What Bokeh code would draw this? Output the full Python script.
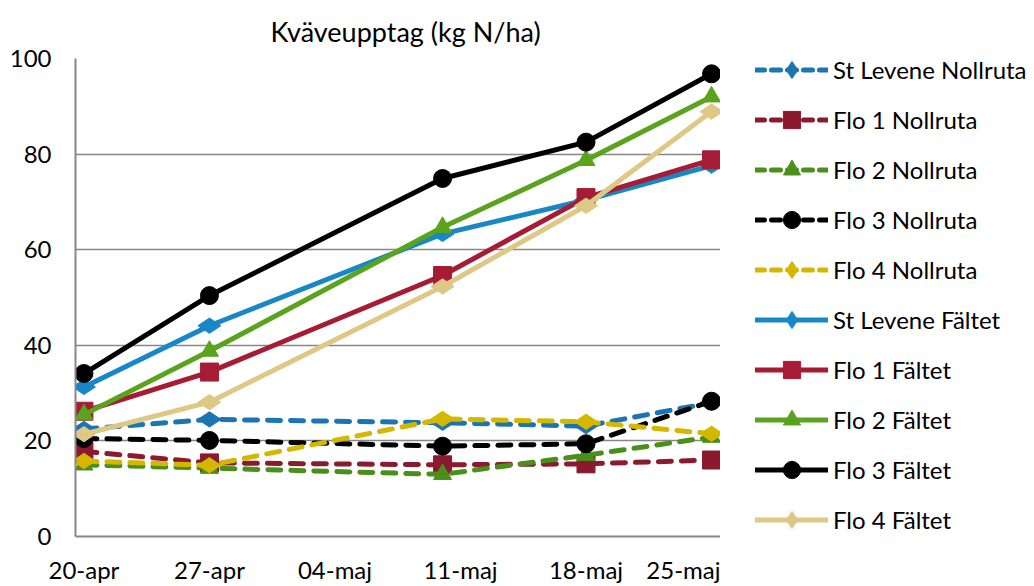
import math
import pandas as pd
from bokeh.plotting import figure
from bokeh.layouts import row
from bokeh.models import Range1d, FixedTicker, Legend, LegendItem
from bokeh.embed import file_html
from bokeh.resources import INLINE

# ---- data ----
sample_dates = ["2013-04-20", "2013-04-27", "2013-05-10", "2013-05-18", "2013-05-25"]
tick_dates = ["2013-04-20", "2013-04-27", "2013-05-04", "2013-05-11", "2013-05-18", "2013-05-25"]
tick_labels = ["20-apr", "27-apr", "04-maj", "11-maj", "18-maj", "25-maj"]

series_names = [
    "St Levene Nollruta", "Flo 1 Nollruta", "Flo 2 Nollruta", "Flo 3 Nollruta", "Flo 4 Nollruta",
    "St Levene Fältet", "Flo 1 Fältet", "Flo 2 Fältet", "Flo 3 Fältet", "Flo 4 Fältet",
]
st_levene_nollruta = [22.5, 24.5, 23.8, 23.1, 28.0]
flo1_nollruta = [17.8, 15.4, 15.0, 15.2, 16.0]
flo2_nollruta = [15.0, 14.3, 13.0, 17.0, 20.8]
flo3_nollruta = [20.5, 20.1, 18.9, 19.4, 28.3]
flo4_nollruta = [15.8, 14.9, 24.6, 24.0, 21.5]
st_levene_faltet = [31.3, 44.1, 63.3, 70.4, 77.6]
flo1_faltet = [26.2, 34.4, 54.6, 70.9, 78.8]
flo2_faltet = [25.5, 38.8, 64.7, 78.7, 92.0]
flo3_faltet = [34.1, 50.4, 74.9, 82.5, 96.8]
flo4_faltet = [21.4, 28.1, 52.3, 69.2, 88.9]
series_values = [
    st_levene_nollruta, flo1_nollruta, flo2_nollruta, flo3_nollruta, flo4_nollruta,
    st_levene_faltet, flo1_faltet, flo2_faltet, flo3_faltet, flo4_faltet,
]
y_ticks = [0, 20, 40, 60, 80, 100]

# ---- styles ----
colors = ["#1a75b2", "#8c1a2e", "#4a8f1a", "#000000", "#d4b800",
          "#1787c8", "#a61c35", "#5aa31d", "#000000", "#ddc985"]
markers = ["diamond", "square", "triangle", "circle", "diamond"] * 2
dashed = [True] * 5 + [False] * 5
FONT = "Lato"

origin = pd.Timestamp(tick_dates[0])
x_vals = [(pd.Timestamp(d) - origin).days for d in sample_dates]
x_ticks = [(pd.Timestamp(d) - origin).days for d in tick_dates]

p = figure(width=720, height=586, x_range=Range1d(-0.47, 35.5), y_range=Range1d(0, 100),
           output_backend="svg", toolbar_location=None,
           min_border_left=75, min_border_right=0, min_border_top=58, min_border_bottom=48,
           title="Kväveupptag (kg N/ha)")
p.outline_line_color = None
p.background_fill_color = "white"
p.title.align = "left"
p.title.offset = 195
p.title.text_font = FONT
p.title.text_font_size = "27px"
p.title.text_font_style = "normal"
p.title.text_color = "#000000"
p.title.standoff = 22

p.xgrid.visible = False
p.ygrid.grid_line_color = "#878787"
p.ygrid.grid_line_width = 1.5
p.yaxis.ticker = FixedTicker(ticks=y_ticks)
p.xaxis.ticker = FixedTicker(ticks=x_ticks)
p.xaxis.major_label_overrides = {t: l for t, l in zip(x_ticks, tick_labels)}
for ax in (p.xaxis, p.yaxis):
    ax.axis_line_color = "#878787"
    ax.axis_line_width = 2
    ax.major_tick_line_color = None
    ax.minor_tick_line_color = None
    ax.major_tick_out = 0
    ax.major_tick_in = 0
    ax.major_label_text_font = FONT
    ax.major_label_text_font_size = "24px"
    ax.major_label_text_color = "#000000"
p.yaxis.major_label_standoff = 24
p.xaxis.major_label_standoff = 18

# legend lives in a side figure of its own (its ranges hide the data, only swatches show)
pl = figure(width=314, height=586, x_range=Range1d(-2, -1), y_range=Range1d(-2, -1),
            output_backend="svg", toolbar_location=None,
            x_axis_location=None, y_axis_location=None,
            min_border_left=0, min_border_right=0, min_border_top=0, min_border_bottom=0)
pl.grid.visible = False
pl.outline_line_color = None

items = []
for name, vals, col, mk, dsh in zip(series_names, series_values, colors, markers, dashed):
    dash = "13 10" if dsh else "solid"
    ang = math.pi / 2 if mk == "diamond" else 0
    sz = 23 if mk == "diamond" else 18
    p.line(x_vals, vals, line_color=col, line_width=5, line_cap="round", line_join="round",
           line_dash=dash)
    p.scatter(x_vals, vals, marker=mk, size=sz, angle=ang, fill_color=col, line_color=col)
    lr = pl.line(x_vals, vals, line_color=col, line_width=5, line_cap="round",
                 line_dash="9 7" if dsh else "solid")
    sr = pl.scatter(x_vals, vals, marker=mk, size=sz, angle=ang, fill_color=col, line_color=col)
    items.append(LegendItem(label=name, renderers=[lr, sr]))

legend = Legend(items=items, location=(35, -5))
legend.border_line_color = None
legend.background_fill_alpha = 0
legend.padding = 0
legend.margin = 0
legend.glyph_width = 73
legend.glyph_height = 43
legend.label_height = 20
legend.spacing = 7
legend.label_standoff = 5
legend.label_text_font = FONT
legend.label_text_font_size = "24px"
legend.label_text_color = "#000000"
pl.add_layout(legend)

layout = row(p, pl, spacing=0)
open("out.html", "w").write(file_html(layout, INLINE))
